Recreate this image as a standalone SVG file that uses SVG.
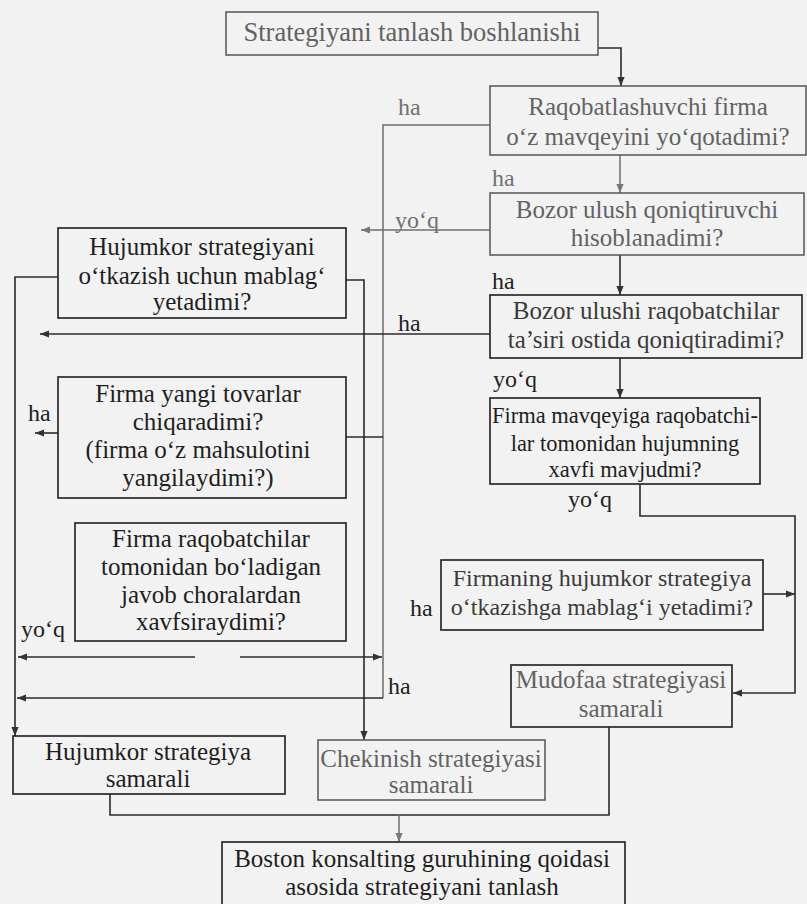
<svg xmlns="http://www.w3.org/2000/svg" width="807" height="904" viewBox="0 0 807 904">
<defs>
<marker id="ar" viewBox="0 0 10 10" refX="10" refY="5" markerWidth="9" markerHeight="9" markerUnits="userSpaceOnUse" orient="auto">
<path d="M0,1 L10,5 L0,9 z" fill="#333"/>
</marker>
<marker id="arg" viewBox="0 0 10 10" refX="10" refY="5" markerWidth="9" markerHeight="9" markerUnits="userSpaceOnUse" orient="auto">
<path d="M0,1 L10,5 L0,9 z" fill="#777"/>
</marker>
</defs>
<style>
.bx{fill:none;stroke:#2a2a2a;stroke-width:1.7}
.bg{fill:none;stroke:#555;stroke-width:1.5}
.t{font-family:'Liberation Serif','DejaVu Serif',serif;font-size:25px;fill:#1e1e1e;text-anchor:middle}
.tg{fill:#626262}
.tm{fill:#3a3a3a}
.lb{font-family:'Liberation Serif','DejaVu Serif',serif;font-size:24px;fill:#222}
.lbg{fill:#707070}
.ln{fill:none;stroke:#2a2a2a;stroke-width:1.6}
.lg{fill:none;stroke:#6e6e6e;stroke-width:1.5}
</style>
<rect x="0" y="0" width="807" height="904" fill="#f2f2f2"/>

<g id="connectors">
<path class="ln" d="M598,48 H621 V86" marker-end="url(#ar)"/>
<path class="lg" d="M620,155 V193" marker-end="url(#arg)"/>
<path class="ln" d="M620,255 V295" marker-end="url(#ar)"/>
<path class="ln" d="M620,358 V398" marker-end="url(#ar)"/>
<path class="lg" d="M490,125 H383 V698"/>
<path class="ln" d="M383,698 H17" marker-end="url(#ar)"/>
<path class="lg" d="M490,230 H361" marker-end="url(#arg)"/>
<path class="ln" d="M490,334 H40" marker-end="url(#ar)"/>
<path class="ln" d="M640,484 V516 H795 V693 H733" marker-end="url(#ar)"/>
<path class="ln" d="M763,594 H795" marker-end="url(#ar)"/>
<path class="ln" d="M609,727 V815 H110 V794"/>
<path class="lg" d="M399,815 V842" marker-end="url(#arg)"/>
<path class="ln" d="M58,277 H15 V736" marker-end="url(#ar)"/>
<path class="ln" d="M346,280 H364 V740" marker-end="url(#ar)"/>
<path class="ln" d="M58,433 H35" marker-end="url(#ar)"/>
<path class="ln" d="M346,437 H383"/>
<path class="ln" d="M240,657 H382" marker-end="url(#ar)"/>
<path class="ln" d="M195,657 H18" marker-end="url(#ar)"/>
</g>

<g id="labels">
<text class="lb lbg" x="398" y="115">ha</text>
<text class="lb lbg" x="492" y="186">ha</text>
<text class="lb lbg" x="395" y="228">yo‘q</text>
<text class="lb" x="492" y="289">ha</text>
<text class="lb" x="398" y="331">ha</text>
<text class="lb" x="493" y="387">yo‘q</text>
<text class="lb" x="568" y="507">yo‘q</text>
<text class="lb" x="28" y="421">ha</text>
<text class="lb" x="410" y="616">ha</text>
<text class="lb" x="21" y="637">yo‘q</text>
<text class="lb" x="388" y="694">ha</text>
</g>

<g id="start">
<rect class="bg" x="226" y="12" width="372" height="43"/>
<text class="t tg" x="412" y="41" style="font-size:26.5px">Strategiyani tanlash boshlanishi</text>
</g>
<g id="q1">
<rect class="bg" x="490" y="86" width="316" height="69"/>
<text class="t tg" x="648" y="115">Raqobatlashuvchi firma</text>
<text class="t tg" x="648" y="145">o‘z mavqeyini yo‘qotadimi?</text>
</g>
<g id="q2">
<rect class="bg" x="490" y="193" width="314" height="62"/>
<text class="t tg" x="647" y="218">Bozor ulush qoniqtiruvchi</text>
<text class="t tg" x="647" y="246">hisoblanadimi?</text>
</g>
<g id="q3">
<rect class="bx" x="490" y="295" width="312" height="63"/>
<text class="t tm" x="646" y="319">Bozor ulushi raqobatchilar</text>
<text class="t tm" x="646" y="348">ta’siri ostida qoniqtiradimi?</text>
</g>
<g id="q4">
<rect class="bx" x="490" y="398" width="270" height="86"/>
<text class="t" x="625" y="423" style="font-size:22.5px">Firma mavqeyiga raqobatchi-</text>
<text class="t" x="625" y="451" style="font-size:22.5px">lar tomonidan hujumning</text>
<text class="t" x="625" y="477" style="font-size:22.5px">xavfi mavjudmi?</text>
</g>
<g id="q5">
<rect class="bx" x="441" y="560" width="322" height="70"/>
<text class="t tm" x="602" y="586" style="font-size:24px">Firmaning hujumkor strategiya</text>
<text class="t tm" x="602" y="615" style="font-size:24px">o‘tkazishga mablag‘i yetadimi?</text>
</g>
<g id="defense">
<rect class="bx" x="511" y="665" width="221" height="62"/>
<text class="t tg" x="621" y="688">Mudofaa strategiyasi</text>
<text class="t tg" x="621" y="717">samarali</text>
</g>
<g id="q6">
<rect class="bx" x="58" y="228" width="288" height="90"/>
<text class="t" x="202" y="255">Hujumkor strategiyani</text>
<text class="t" x="202" y="284">o‘tkazish uchun mablag‘</text>
<text class="t" x="202" y="310">yetadimi?</text>
</g>
<g id="q7">
<rect class="bx" x="58" y="377" width="288" height="121"/>
<text class="t" x="198" y="402">Firma yangi tovarlar</text>
<text class="t" x="198" y="430">chiqaradimi?</text>
<text class="t" x="198" y="458">(firma o‘z mahsulotini</text>
<text class="t" x="198" y="486">yangilaydimi?)</text>
</g>
<g id="q8">
<rect class="bx" x="75" y="523" width="271" height="118"/>
<text class="t" x="211" y="547">Firma raqobatchilar</text>
<text class="t" x="211" y="575">tomonidan bo‘ladigan</text>
<text class="t" x="211" y="603">javob choralardan</text>
<text class="t" x="211" y="630">xavfsiraydimi?</text>
</g>
<g id="offense">
<rect class="bx" x="13" y="736" width="272" height="58"/>
<text class="t" x="148" y="760">Hujumkor strategiya</text>
<text class="t" x="148" y="787">samarali</text>
</g>
<g id="retreat">
<rect class="bg" x="318" y="740" width="227" height="60"/>
<text class="t tg" x="431" y="767">Chekinish strategiyasi</text>
<text class="t tg" x="431" y="793">samarali</text>
</g>
<g id="end">
<rect class="bx" x="222" y="842" width="403" height="64"/>
<text class="t" x="422" y="867">Boston konsalting guruhining qoidasi</text>
<text class="t" x="422" y="895">asosida strategiyani tanlash</text>
</g>
</svg>
